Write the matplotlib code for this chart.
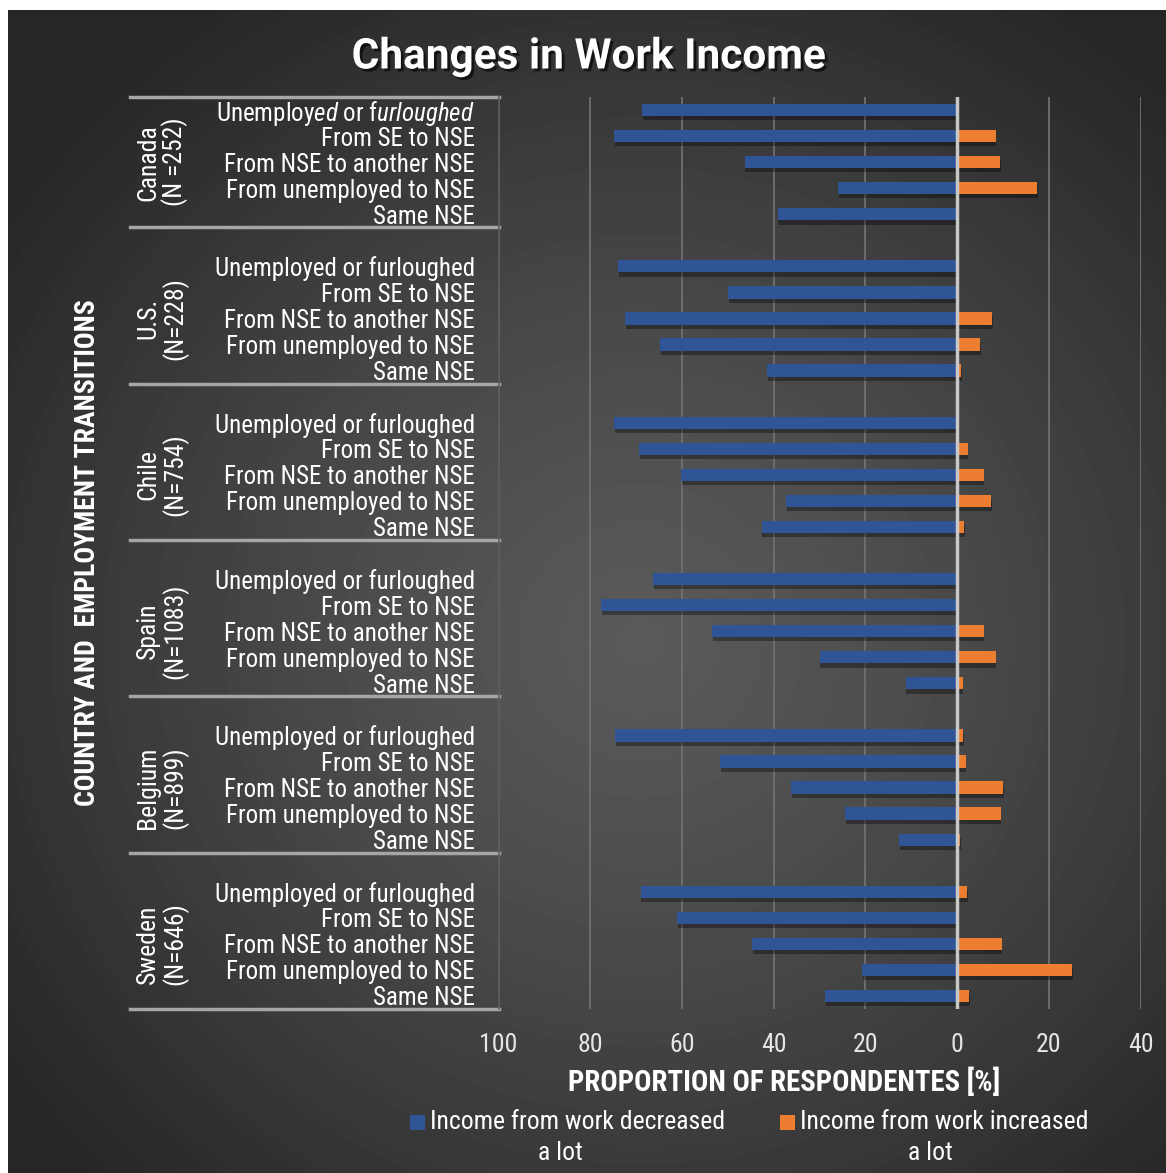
import numpy as np
import matplotlib
matplotlib.use("Agg")
import matplotlib.pyplot as plt
import matplotlib.patheffects as pe
from matplotlib.patches import Rectangle
from matplotlib.transforms import blended_transform_factory

plt.rcParams["font.family"] = ["Roboto Condensed", "DejaVu Sans"]
plt.rcParams["mathtext.fontset"] = "custom"
plt.rcParams["mathtext.rm"] = "Roboto Condensed"
plt.rcParams["mathtext.it"] = "Roboto Condensed:italic"

countries = ["Canada", "U.S.", "Chile", "Spain", "Belgium", "Sweden"]
sample_sizes = ["(N =252)", "(N=228)", "(N=754)", "(N=1083)", "(N=899)", "(N=646)"]
transitions = [
    "Unemployed or furloughed",
    "From SE to NSE",
    "From NSE to another NSE",
    "From unemployed to NSE",
    "Same NSE",
]

# % of respondents whose income from work decreased a lot
decreased = {
    "Canada": [68.7, 74.8, 46.3, 25.9, 39.1],
    "U.S.": [73.9, 49.9, 72.4, 64.8, 41.4],
    "Chile": [74.8, 69.4, 60.1, 37.2, 42.6],
    "Spain": [66.3, 77.6, 53.4, 30.0, 11.2],
    "Belgium": [74.6, 51.7, 36.2, 24.4, 12.7],
    "Sweden": [69.0, 61.0, 44.7, 20.7, 28.7],
}
# % of respondents whose income from work increased a lot
increased = {
    "Canada": [0.0, 8.4, 9.4, 17.4, 0.0],
    "U.S.": [0.0, 0.0, 7.7, 5.1, 0.9],
    "Chile": [0.0, 2.3, 5.8, 7.4, 1.5],
    "Spain": [0.0, 0.0, 5.8, 8.4, 1.2],
    "Belgium": [1.3, 1.9, 10.1, 9.5, 0.6],
    "Sweden": [2.2, 0.0, 9.7, 25.1, 2.7],
}

x_ticks = [-100, -80, -60, -40, -20, 0, 20, 40]
legend_labels = ["Income from work decreased", "Income from work increased"]

BLUE = "#2f5597"
ORANGE = "#ed7d31"
W, H = 1166, 1173


def px(x, y):
    # pixel position (from top-left) -> figure fraction
    return x / W, 1 - y / H


def main():
    fig = plt.figure(figsize=(W / 100, H / 100), dpi=100, facecolor="white")

    # dark radial backdrop
    bg = fig.add_axes([8 / W, 0, 1 - 8 / W, 1 - 10 / H], zorder=-10)
    gx, gy = np.meshgrid(np.arange(W - 8), np.arange(H - 10))
    r = np.sqrt(((gx + 8 - 640) / 780) ** 2 + ((gy + 10 - 640) / 760) ** 2)
    shade = 0.35 - 0.2 * np.clip(r, 0, 1) ** 1.3
    bg.imshow(shade, cmap="gray", vmin=0, vmax=1, aspect="auto",
              extent=[0, 1, 1, 0], interpolation="bilinear")
    bg.set_axis_off()

    ax = fig.add_axes([498.5 / W, 1 - 1009 / H, 642 / W, 912 / H])
    ax.set_facecolor("none")

    shadow = [pe.SimplePatchShadow(offset=(0.5, -3), shadow_rgbFace="black", alpha=0.35), pe.Normal()]
    positions = []
    labels = []
    for g, c in enumerate(countries):
        for i, t in enumerate(transitions):
            y = g * 6 + i
            positions.append(y)
            labels.append(t)
            ax.barh(y, -decreased[c][i], height=0.47, color=BLUE, zorder=3, path_effects=shadow)
            if increased[c][i] > 0:
                ax.barh(y, increased[c][i], height=0.47, color=ORANGE, zorder=3, path_effects=shadow)
    labels[0] = r"Unemploy$\mathit{ed}$ or f$\mathit{urloughed}$"

    ax.set_ylim(34.5, -0.5)
    ax.set_xlim(-100, 40)
    ax.set_yticks(positions)
    ax.set_yticklabels(labels)
    ax.set_xticks(x_ticks)
    ax.set_xticklabels([str(abs(v)) for v in x_ticks])
    ax.tick_params(axis="y", length=0, pad=17, labelsize=18, labelcolor="white")
    ax.tick_params(axis="x", length=0, pad=17, labelsize=18.5, labelcolor="#e6e6e6")
    ax.grid(axis="x", color="#707070", lw=1.3, zorder=0)
    ax.axvline(0, color="#c8c8c8", lw=2.5, zorder=4)
    for s in ["top", "right", "bottom"]:
        ax.spines[s].set_visible(False)
    ax.spines["left"].set_color("#5c5c5c")
    ax.spines["left"].set_linewidth(1.2)

    # country group dividers and names
    trans = blended_transform_factory(ax.transAxes, ax.transData)
    bounds = [-0.5] + [g * 6 + 4.5 for g in range(len(countries))]
    for b in bounds:
        ax.plot([-0.574, 0], [b, b], color="#a6a6a6", lw=2.5, transform=trans, clip_on=False)
    for g, c in enumerate(countries):
        ax.text(-0.524, g * 6 + 2, c + "\n" + sample_sizes[g], transform=trans,
                rotation=90, ha="center", va="center", multialignment="center",
                fontsize=18.5, color="white", linespacing=1.05)

    fig.text(*px(88, 553), "COUNTRY AND  EMPLOYMENT TRANSITIONS", rotation=90,
             ha="center", va="center", fontsize=20, fontweight="bold", color="white")
    fig.text(*px(784, 1082), "PROPORTION OF RESPONDENTES [%]",
             ha="center", va="center", fontsize=20.7, fontweight="bold", color="white")
    fig.text(*px(589, 57), "Changes in Work Income", ha="center", va="center",
             fontsize=30.5, fontweight="bold", color="white", family=["Roboto", "DejaVu Sans"],
             path_effects=[pe.withSimplePatchShadow(offset=(2, -2), shadow_rgbFace="black", alpha=0.6)])

    # legend: swatch beside the first line, "a lot" centred underneath
    for (sx, tx, cx), color, text in zip([(410, 430, 560), (780, 800, 930)], [BLUE, ORANGE], legend_labels):
        fig.patches.append(Rectangle(px(sx, 1130), 15 / W, 15 / H, transform=fig.transFigure,
                                     facecolor=color, edgecolor="none"))
        fig.text(*px(tx, 1122), text, ha="left", va="center", fontsize=18.5, color="white")
        fig.text(*px(cx, 1153), "a lot", ha="center", va="center", fontsize=18.5, color="white")

    fig.savefig("out.png", dpi=100, facecolor=fig.get_facecolor())


if __name__ == "__main__":
    main()
